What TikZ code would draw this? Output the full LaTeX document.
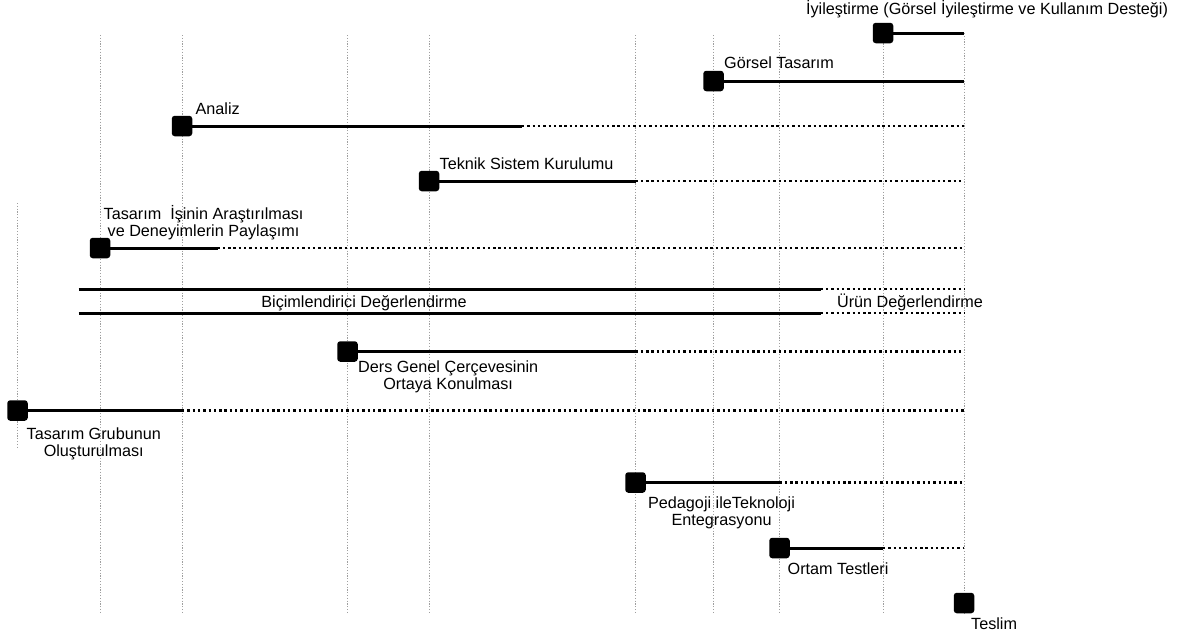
\documentclass[tikz,border=0pt]{standalone}
\usepackage{fontspec}
\setmainfont{Liberation Sans}
\usetikzlibrary{positioning}
\tikzset{
  milestone/.style={fill=black, rounded corners=3, minimum size=20.5},
  task/.style={draw, line width=3},
  rest/.style={draw, line width=2.6, dash pattern=on 2.4 off 2.9},
  gridline/.style={draw=gray!75, line width=0.9, dash pattern=on 1.2 off 1.6},
  lbl/.style={font=\fontsize{16.2}{16.5}\selectfont, align=center},
  node distance=1, every node/.style={inner sep=0}
}

\begin{document}
\begin{tikzpicture}[x=1pt, y=1pt]
    \useasboundingbox (0,0) rectangle (1182,-637);
    % time grid
    \draw[gridline] (17,-203) -- (17,-448);
    \draw[gridline] (100,-35) -- (100,-613);
    \draw[gridline] (182,-35) -- (182,-613);
    \draw[gridline] (347.5,-35) -- (347.5,-613);
    \draw[gridline] (429,-35) -- (429,-613);
    \draw[gridline] (635.5,-35) -- (635.5,-613);
    \draw[gridline] (713.5,-35) -- (713.5,-613);
    \draw[gridline] (779.5,-35) -- (779.5,-613);
    \draw[gridline] (883,-35) -- (883,-613);
    \draw[gridline] (964,-33) -- (964,-613);

    \node[milestone] (iyilestirme) at (883,-33) {};
    \coordinate (iyilestirmeend) at (964,-33);
    \draw[task] (iyilestirme) -- (iyilestirmeend);
    \node[lbl, above=4 of iyilestirme, xshift=104] (iyilestirmelbl) {İyileştirme (Görsel İyileştirme ve Kullanım Desteği)};

    \node[milestone] (gorsel) at (713.5,-81) {};
    \coordinate (gorselend) at (964,-81);
    \draw[task] (gorsel) -- (gorselend);
    \node[lbl, above right=1.5 and 0 of gorsel.north east] (gorsellbl) {Görsel Tasarım};

    \node[milestone] (analiz) at (182,-126) {};
    \coordinate (analizstop) at (522,-126);
    \coordinate (analizend) at (964,-126);
    \draw[task] (analiz) -- (analizstop);
    \draw[rest] (analizstop) -- (analizend);
    \node[lbl, above right=1 and 3 of analiz.north east] (analizlbl) {Analiz};

    \node[milestone] (teknik) at (429,-181) {};
    \coordinate (teknikstop) at (635.5,-181);
    \coordinate (teknikend) at (964,-181);
    \draw[task] (teknik) -- (teknikstop);
    \draw[rest] (teknikstop) -- (teknikend);
    \node[lbl, above right=1 and 0 of teknik.north east] (tekniklbl) {Teknik Sistem Kurulumu};

    \node[milestone] (arastirma) at (100,-248) {};
    \coordinate (arastirmastop) at (217.5,-248);
    \coordinate (arastirmaend) at (964,-248);
    \draw[task] (arastirma) -- (arastirmastop);
    \draw[rest] (arastirmastop) -- (arastirmaend);
    \node[lbl, above right=-2.4 and -7 of arastirma.north east] (arastirmalbl) {Tasarım~ İşinin Araştırılması\\ve Deneyimlerin Paylaşımı};

    % evaluation band
    \coordinate (bandtop) at (78.5,-289);
    \coordinate (bandtopstop) at (820.7,-289);
    \coordinate (bandtopend) at (964,-289);
    \coordinate (bandbot) at (78.5,-313);
    \coordinate (bandbotstop) at (820.7,-313);
    \coordinate (bandbotend) at (964,-313);
    \draw[task] (bandtop) -- (bandtopstop);
    \draw[rest] (bandtopstop) -- (bandtopend);
    \draw[task] (bandbot) -- (bandbotstop);
    \draw[rest] (bandbotstop) -- (bandbotend);
    \node[lbl, anchor=base] (bicimlendirici) at (364,-307.5) {Biçimlendirici Değerlendirme};
    \node[lbl, anchor=base] (urun) at (910,-307.5) {Ürün Değerlendirme};

    \node[milestone] (dersgenel) at (347.5,-351.5) {};
    \coordinate (dersgenelstop) at (635.5,-351.5);
    \coordinate (dersgenelend) at (964,-351.5);
    \draw[task] (dersgenel) -- (dersgenelstop);
    \draw[rest] (dersgenelstop) -- (dersgenelend);
    \node[lbl, below right=-1 and 0 of dersgenel.south east] (dersgenellbl) {Ders Genel Çerçevesinin\\Ortaya Konulması};

    \node[milestone] (grup) at (17.5,-410.5) {};
    \coordinate (grupstop) at (182,-410.5);
    \coordinate (grupend) at (964,-410.5);
    \draw[task] (grup) -- (grupstop);
    \draw[rest] (grupstop) -- (grupend);
    \node[lbl, below right=7 and -1.5 of grup.south east] (gruplbl) {Tasarım Grubunun\\Oluşturulması};

    \node[milestone] (pedagoji) at (635.5,-482.5) {};
    \coordinate (pedagojistop) at (779.5,-482.5);
    \coordinate (pedagojiend) at (964,-482.5);
    \draw[task] (pedagoji) -- (pedagojistop);
    \draw[rest] (pedagojistop) -- (pedagojiend);
    \node[lbl, below right=4 and 2 of pedagoji.south east] (pedagojilbl) {Pedagoji ileTeknoloji\\Entegrasyonu};

    \node[milestone] (ortam) at (779.5,-548) {};
    \coordinate (ortamstop) at (883,-548);
    \coordinate (ortamend) at (964,-548);
    \draw[task] (ortam) -- (ortamstop);
    \draw[rest] (ortamstop) -- (ortamend);
    \node[lbl, below right=4 and -2.5 of ortam.south east] (ortamlbl) {Ortam Testleri};

    \node[milestone] (teslim) at (964,-603) {};
    \node[lbl, below right=4 and -3.5 of teslim.south east] (teslimlbl) {Teslim};
\end{tikzpicture}
\end{document}
